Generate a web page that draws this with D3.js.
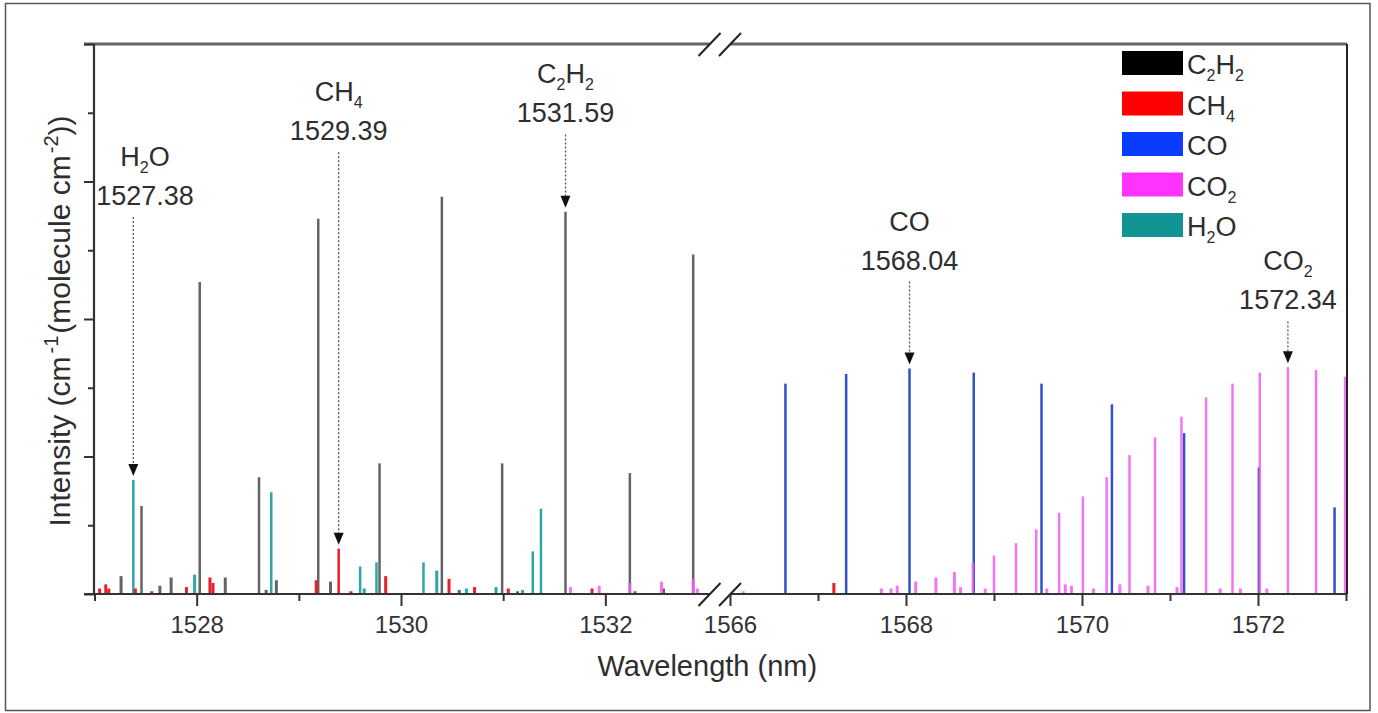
<!DOCTYPE html>
<html>
<head>
<meta charset="utf-8">
<script src="https://cdn.jsdelivr.net/npm/d3@7"></script>
<style>
  body { margin: 0; background: #fff; }
  svg text { font-family: "Liberation Sans", Arial, sans-serif; fill: #2e2e2e; }
</style>
</head>
<body>
<svg id="chart" width="1378" height="713"></svg>
<script>
// absorption lines: [wavelength (nm), intensity in units of one major y tick]
const c2h2Lines = [[1527.26,0.13],[1527.46,0.64],[1527.64,0.06],[1527.75,0.12],[1528.03,2.27],[1528.28,0.12],
  [1528.61,0.85],[1528.68,0.03],[1528.78,0.10],[1529.19,2.73],[1529.31,0.09],[1529.79,0.95],[1530.40,2.89],
  [1530.57,0.03],[1530.99,0.95],[1531.14,0.02],[1531.61,2.78],[1532.24,0.88],[1532.29,0.02],[1532.57,0.04],[1532.86,2.47]];
const ch4Lines = [[1527.05,0.04],[1527.11,0.07],[1527.14,0.04],[1527.40,0.04],[1527.56,0.02],[1527.90,0.05],
  [1528.13,0.12],[1528.16,0.08],[1529.17,0.10],[1529.39,0.33],[1529.51,0.02],[1529.85,0.13],[1530.47,0.11],
  [1530.72,0.05],[1531.05,0.04],[1531.87,0.04],[1567.18,0.08]];
const h2oLines = [[1527.38,0.83],[1527.98,0.14],[1528.73,0.74],[1529.60,0.20],[1529.64,0.04],[1529.76,0.23],
  [1530.22,0.23],[1530.35,0.17],[1530.64,0.04],[1530.93,0.05],[1531.19,0.03],[1531.29,0.31],[1531.37,0.62]];
const coLines = [[1566.63,1.53],[1567.32,1.60],[1568.04,1.64],[1568.77,1.61],[1569.54,1.53],[1570.34,1.38],
  [1571.16,1.17],[1572.01,0.92],[1572.87,0.63]];
const co2Lines = [[1531.66,0.05],[1531.94,0.06],[1532.24,0.08],[1532.55,0.09],[1532.86,0.11],[1532.90,0.04],
  [1566.15,0.02],[1567.72,0.04],[1567.83,0.04],[1567.90,0.06],[1568.11,0.09],[1568.34,0.12],[1568.55,0.16],
  [1568.62,0.05],[1568.76,0.23],[1568.90,0.04],[1569.00,0.28],[1569.25,0.37],[1569.48,0.47],[1569.60,0.04],
  [1569.74,0.59],[1569.81,0.07],[1569.88,0.06],[1570.01,0.71],[1570.13,0.04],[1570.28,0.85],[1570.43,0.07],
  [1570.54,1.01],[1570.75,0.06],[1570.83,1.14],[1571.08,0.05],[1571.13,1.29],[1571.41,1.43],[1571.57,0.04],
  [1571.71,1.53],[1571.80,0.04],[1572.02,1.61],[1572.10,0.04],[1572.34,1.65],[1572.66,1.63],[1572.99,1.58]];

const speciesNames = ["C2H2", "CH4", "CO", "CO2", "H2O"];
const legendColors = ["#000000", "#ff0000", "#0a3cff", "#ff33ff", "#139494"];

// wavelength ranges either side of the axis break
const leftRange = [1527, 1533];
const rightRange = [1566, 1573];
const tickLabels = ["1528", "1530", "1532", "1566", "1568", "1570", "1572"];

// annotated lines; level = where the label sits, in intensity units
const annotations = [
  {formula: "H2O", wl: 1527.38, text: "1527.38", level: 2.83},
  {formula: "CH4", wl: 1529.39, text: "1529.39", level: 3.30},
  {formula: "C2H2", wl: 1531.61, text: "1531.59", level: 3.43},
  {formula: "CO", wl: 1568.04, text: "1568.04", level: 2.36},
  {formula: "CO2", wl: 1572.34, text: "1572.34", level: 2.07}
];

const svg = d3.select("#chart");

// outer frame
svg.append("rect")
    .attr("x", 5.5).attr("y", 3.5)
    .attr("width", 1364.5).attr("height", 707)
    .attr("fill", "none")
    .attr("stroke", "#555")
    .attr("stroke-width", 1.5);

const y = d3.scaleLinear().domain([0, 4]).range([594, 44]);
const xL = d3.scaleLinear().domain(leftRange).range([94.5, 707.5]);
const xR = d3.scaleLinear().domain(rightRange).range([730, 1346]);
const xPos = w => w < 1550 ? xL(w) : xR(w);

const breakA = xL(leftRange[1]) + 2;
const breakB = xR(rightRange[0]);
const plotLeft = 94, plotRight = 1347, axisOut = 84;

svg.append("defs").append("clipPath").attr("id", "plotclip")
  .append("rect").attr("x", plotLeft).attr("y", y(4)).attr("width", plotRight - plotLeft - 1).attr("height", y(0) - y(4));

// spectral lines
const lineColor = {C2H2: "#5c5c5c", CH4: "#e8141c", CO: "#2748c8", CO2: "#f35ef3", H2O: "#20a3a3"};
const layers = [["C2H2", c2h2Lines], ["H2O", h2oLines], ["CH4", ch4Lines], ["CO", coLines], ["CO2", co2Lines]];
const linesG = svg.append("g").attr("clip-path", "url(#plotclip)");
layers.forEach(([name, data]) => {
  linesG.append("g")
    .selectAll("line")
    .data(data)
    .enter()
    .append("line")
    .attr("x1", d => xPos(d[0]))
    .attr("x2", d => xPos(d[0]))
    .attr("y1", y(0))
    .attr("y2", d => y(d[1]))
    .attr("stroke", lineColor[name])
    .attr("stroke-width", d => d[1] < 0.2 ? 3 : 2.5)
    .attr("opacity", name === "CO2" ? 0.85 : 0.95);
});

// frame lines: top, bottom (both broken), left and right
const frame = svg.append("g").attr("stroke-linecap", "butt");
[[y(4), "#666", 2.8], [y(0), "#333", 2]].forEach(([yy, col, sw]) => {
  frame.append("line").attr("x1", axisOut).attr("x2", breakA).attr("y1", yy).attr("y2", yy)
    .attr("stroke", col).attr("stroke-width", sw);
  frame.append("line").attr("x1", breakB).attr("x2", plotRight).attr("y1", yy).attr("y2", yy)
    .attr("stroke", col).attr("stroke-width", sw);
  [breakA, breakB].forEach(bx => {
    frame.append("line")
      .attr("x1", bx - 11).attr("y1", yy + 12)
      .attr("x2", bx + 11).attr("y2", yy - 11)
      .attr("stroke", "#222").attr("stroke-width", 2);
  });
});
frame.append("line").attr("x1", plotLeft).attr("x2", plotLeft).attr("y1", y(4)).attr("y2", y(0))
  .attr("stroke", "#333").attr("stroke-width", 2.2);
frame.append("line").attr("x1", plotRight).attr("x2", plotRight).attr("y1", y(4)).attr("y2", y(0))
  .attr("stroke", "#222").attr("stroke-width", 2);

// y axis ticks (no labels)
const yAxisG = svg.append("g").attr("transform", `translate(${plotLeft},0)`);
yAxisG.append("g").call(d3.axisLeft(y).tickValues([0, 1, 2, 3, 4]).tickSize(10).tickFormat(""));
yAxisG.append("g").call(d3.axisLeft(y).tickValues([0.5, 1.5, 2.5, 3.5]).tickSize(6).tickFormat(""));
yAxisG.selectAll(".domain").remove();
yAxisG.selectAll(".tick line").attr("stroke", "#333").attr("stroke-width", 2);

// x axis ticks, two pieces
const xAxisG = svg.append("g").attr("transform", `translate(0,${y(0)})`);
[[xL, d3.range(1527, 1533)], [xR, d3.range(1566, 1574)]].forEach(([sc, vals]) => {
  const major = vals.filter(v => tickLabels.includes(String(v)));
  const minor = vals.filter(v => !tickLabels.includes(String(v)));
  xAxisG.append("g").attr("class", "major")
    .call(d3.axisBottom(sc).tickValues(major).tickSize(12).tickFormat(d3.format("d")));
  xAxisG.append("g")
    .call(d3.axisBottom(sc).tickValues(minor).tickSize(7).tickFormat(""));
});
xAxisG.selectAll(".domain").remove();
xAxisG.selectAll(".tick line").attr("stroke", "#333").attr("stroke-width", 2);
xAxisG.selectAll(".major text")
    .attr("y", 22)
    .style("font-size", "24px")
    .style("fill", "#333");

// text with digits as subscripts
function chem(sel, str, size, subSize, shift) {
  const parts = str.match(/\d+|\D+/g);
  let down = false;
  parts.forEach(p => {
    const isSub = /\d/.test(p);
    const t = sel.append("tspan").text(p);
    if (isSub) {
      t.style("font-size", subSize + "px").attr("dy", down ? 0 : shift);
      down = true;
    } else {
      t.style("font-size", size + "px").attr("dy", down ? -shift : 0);
      down = false;
    }
  });
}

// axis titles
svg.append("text")
    .attr("x", (xL(1527) + xR(1573)) / 2 - 13)
    .attr("y", 676)
    .attr("text-anchor", "middle")
    .style("font-size", "29px")
    .text("Wavelength (nm)");

const yTitle = svg.append("text")
    .attr("transform", "translate(70,321) rotate(-90)")
    .attr("text-anchor", "middle")
    .style("font-size", "30px");
yTitle.append("tspan").text("Intensity (cm");
yTitle.append("tspan").text("-1").style("font-size", "20px").attr("dx", 3).attr("dy", -12);
yTitle.append("tspan").text("(molecule cm").attr("dx", 2).attr("dy", 12);
yTitle.append("tspan").text("-2").style("font-size", "20px").attr("dx", 2).attr("dy", -12);
yTitle.append("tspan").text("))").attr("dy", 12);

// annotations with dotted arrows
const allLines = layers.flatMap(l => l[1]);
const annG = svg.append("g");
annotations.forEach(a => {
  const ax = xPos(a.wl);
  const tx = Math.max(ax, plotLeft + 51);   // keep the label clear of the y axis
  const labelY = y(a.level);
  const top = d3.max(allLines.filter(d => Math.abs(d[0] - a.wl) < 0.03), d => d[1]);
  const tipY = y(top) - 4;
  const ft = annG.append("text").attr("x", tx).attr("y", labelY - 39).attr("text-anchor", "middle");
  chem(ft, a.formula, 27, 16, 7);
  annG.append("text").attr("x", tx).attr("y", labelY)
      .attr("text-anchor", "middle").style("font-size", "27px").text(a.text);
  annG.append("line")
      .attr("x1", ax).attr("x2", ax)
      .attr("y1", labelY + 12).attr("y2", tipY - 10)
      .attr("stroke", "#555").attr("stroke-width", 1.3)
      .attr("stroke-dasharray", "2,2");
  annG.append("path")
      .attr("d", `M${ax - 5},${tipY - 12}L${ax + 5},${tipY - 12}L${ax},${tipY}Z`)
      .attr("fill", "#111");
});

// legend
const legendY = d3.scalePoint().domain(speciesNames).range([51, 213]);
const legend = svg.append("g");
speciesNames.forEach((name, i) => {
  legend.append("rect")
      .attr("x", 1122).attr("y", legendY(name))
      .attr("width", 61).attr("height", 24)
      .attr("fill", legendColors[i]);
  const t = legend.append("text").attr("x", 1187).attr("y", legendY(name) + 23);
  chem(t, name, 27, 16, 7);
});
</script>
</body>
</html>
